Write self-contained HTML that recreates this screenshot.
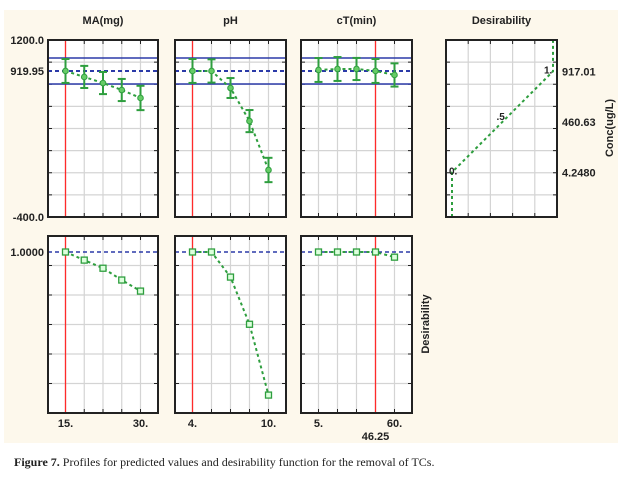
<!DOCTYPE html>
<html><head><meta charset="utf-8"><style>
body{margin:0;background:#fff;width:630px;height:479px;overflow:hidden}
svg{display:block}
</style></head><body>
<svg id="c" width="630" height="479" xmlns="http://www.w3.org/2000/svg" font-family="Liberation Sans, sans-serif">
<rect x="4" y="10" width="614" height="433" fill="#fdf8ec"/>
<text x="14" y="466" font-family="Liberation Serif, serif" font-size="12" fill="#222"><tspan font-weight="bold">Figure 7.</tspan> Profiles for predicted values and desirability function for the removal of TCs.</text>
</svg>
<script>
const factorNames=["MA(mg)","pH","cT(min)"];
const xMinLabels=["15.","4.","5."];
const xMaxLabels=["30.","10.","60."];
const currentIdx=[0,0,3];
const currentLabel=["","","46.25"];
const maPred=[920,866,811,748,676];
const phPred=[920,920,766,467,25];
const ctPred=[929,938,938,920,884];
const maErr=[108,100,100,100,110];
const phErr=[108,105,90,100,110];
const ctErr=[108,108,100,108,105];
const maDes=[1,0.945,0.89,0.81,0.735];
const phDes=[1,1,0.83,0.51,0.03];
const ctDes=[1,1,1,1,0.965];
const predTarget=919.95, predUpper=1037, predLower=802;
const desCurveD=[0,0,1,1];
const desCurveC=[-400,4.248,917.01,1200];
const concLabels=["917.01","460.63","4.2480"];
const concVals=[917.01,460.63,4.248];
const desPtLabels=["0.",".5","1."];

const svg=document.getElementById('c');
const NS="http://www.w3.org/2000/svg";
function mk(tag,attrs,parent){const e=document.createElementNS(NS,tag);for(const k in attrs)e.setAttribute(k,attrs[k]);(parent||svg).appendChild(e);return e;}
const panelsX=[[48,158],[175,286],[301,412]];
const top1=40,bot1=217,top2=236,bot2=413;
const yPred=v=>top1+(1200-v)/1600*(bot1-top1);
const yDes=v=>252+(1-v)*147.5;
const preds=[maPred,phPred,ctPred],errs=[maErr,phErr,ctErr],des=[maDes,phDes,ctDes];
const green="#2e9e3e",blue="#2b3aa8";
function xAt(p,i){const [a,b]=panelsX[p];return a+17.5+i*(b-a-35)/4;}

function frame(x0,x1,y0,y1,hn,xs,name){
  const g=mk('g',{});
  
  
  mk('rect',{x:x0,y:y0,width:x1-x0,height:y1-y0,fill:'#fff'},g);
  for(let i=1;i<hn;i++){const y=y0+i*(y1-y0)/hn;mk('line',{x1:x0,x2:x1,y1:y,y2:y,stroke:'#d4d4d4','stroke-width':1.2},g);mk('line',{x1:x0,x2:x0+4,y1:y,y2:y,stroke:'#222'},g);mk('line',{x1:x1-4,x2:x1,y1:y,y2:y,stroke:'#222'},g);}
  xs.forEach(x=>{mk('line',{x1:x,x2:x,y1:y0,y2:y1,stroke:'#d4d4d4','stroke-width':1.2},g);mk('line',{x1:x,x2:x,y1:y0,y2:y0+4,stroke:'#222'},g);mk('line',{x1:x,x2:x,y1:y1-4,y2:y1,stroke:'#222'},g);});
  return g;
}
function border(x0,x1,y0,y1){mk('rect',{x:x0,y:y0,width:x1-x0,height:y1-y0,fill:'none',stroke:'#222','stroke-width':2});}

for(let p=0;p<3;p++){
  const [x0,x1]=panelsX[p];
  const xs=[0,1,2,3,4].map(i=>xAt(p,i));
  const t=mk('text',{x:(x0+x1)/2,y:24,'text-anchor':'middle','font-size':11,'font-weight':'bold',fill:'#222'});t.textContent=factorNames[p];
  
  
  // top panel
  frame(x0,x1,top1,bot1,8,xs,'prediction-panel-'+p);
  const xr=xAt(p,currentIdx[p]);
  const rl=mk('line',{x1:xr,x2:xr,y1:top1,y2:bot1,stroke:'#ff2a2a','stroke-width':1.3});
  
  
  [predUpper,predLower].forEach(v=>mk('line',{x1:x0,x2:x1,y1:yPred(v),y2:yPred(v),stroke:blue,'stroke-width':1.5}));
  mk('line',{x1:x0,x2:x1,y1:yPred(predTarget),y2:yPred(predTarget),stroke:blue,'stroke-width':2,'stroke-dasharray':'4,3'});
  const pts=preds[p].map((v,i)=>xAt(p,i)+','+yPred(v)).join(' ');
  const pl=mk('polyline',{points:pts,fill:'none',stroke:green,'stroke-width':2,'stroke-dasharray':'3,3'});
  
  
  preds[p].forEach((v,i)=>{const x=xAt(p,i),y=yPred(v),e=errs[p][i];
    const hi=yPred(v+e),lo=yPred(v-e);
    mk('line',{x1:x,x2:x,y1:hi,y2:lo,stroke:green,'stroke-width':2});
    mk('line',{x1:x-4,x2:x+4,y1:hi,y2:hi,stroke:green,'stroke-width':2});
    mk('line',{x1:x-4,x2:x+4,y1:lo,y2:lo,stroke:green,'stroke-width':2});
    const c=mk('circle',{cx:x,cy:y,r:2.8,fill:'#6c6',stroke:green,'stroke-width':1});
    
    
  });
  border(x0,x1,top1,bot1);
  // bottom panel
  frame(x0,x1,top2,bot2,6,xs,'desirability-panel-'+p);
  const rl2=mk('line',{x1:xr,x2:xr,y1:top2,y2:bot2,stroke:'#ff2a2a','stroke-width':1.3});
  
  
  mk('line',{x1:x0,x2:x1,y1:yDes(1),y2:yDes(1),stroke:blue,'stroke-width':1.5,'stroke-dasharray':'4,3'});
  const pts2=des[p].map((v,i)=>xAt(p,i)+','+yDes(v)).join(' ');
  const pl2=mk('polyline',{points:pts2,fill:'none',stroke:green,'stroke-width':2,'stroke-dasharray':'3,3'});
  
  
  des[p].forEach((v,i)=>{const r=mk('rect',{x:xAt(p,i)-3,y:yDes(v)-3,width:6,height:6,fill:'#dfd',stroke:green,'stroke-width':1.3});
    
    });
  border(x0,x1,top2,bot2);
  const a=mk('text',{x:xAt(p,0),y:427,'text-anchor':'middle','font-size':11,'font-weight':'bold',fill:'#222'});a.textContent=xMinLabels[p];
  
  
  const b=mk('text',{x:xAt(p,4),y:427,'text-anchor':'middle','font-size':11,'font-weight':'bold',fill:'#222'});b.textContent=xMaxLabels[p];
  
  
  if(currentLabel[p]){const c=mk('text',{x:xr,y:440,'text-anchor':'middle','font-size':11,'font-weight':'bold',fill:'#222'});c.textContent=currentLabel[p];
    
    }
}
[["1200.0",1200],["919.95",predTarget],["-400.0",-400]].forEach(([s,v])=>{const t=mk('text',{x:44,y:yPred(v)+4,'text-anchor':'end','font-size':11,'font-weight':'bold',fill:'#222'});t.textContent=s;
  
  });
{const t=mk('text',{x:44,y:yDes(1)+4,'text-anchor':'end','font-size':11,'font-weight':'bold',fill:'#222'});t.textContent="1.0000";
  
  }
const dx0=446,dx1=557;
const xD=v=>dx0+6+v*(dx1-dx0-10);
{const t=mk('text',{x:(dx0+dx1)/2,y:24,'text-anchor':'middle','font-size':11,'font-weight':'bold',fill:'#222'});t.textContent="Desirability";
  
  }
frame(dx0,dx1,top1,bot1,8,[1,2,3,4].map(i=>dx0+i*(dx1-dx0)/5),'desirability-function-panel');
const dl=mk('polyline',{points:desCurveD.map((d,i)=>xD(d)+','+yPred(desCurveC[i])).join(' '),fill:'none',stroke:green,'stroke-width':2,'stroke-dasharray':'3,3'});


[[0,4.248],[0.5,460.63],[1,917.01]].forEach(([d,c],i)=>{const t=mk('text',{x:xD(d)+(i==0?-3:i==1?-6:-9),y:yPred(c)+(i==1?-2:2),'font-size':10,'font-weight':'bold',fill:'#222'});t.textContent=desPtLabels[i];
  
  });
border(dx0,dx1,top1,bot1);
concLabels.forEach((s,i)=>{const t=mk('text',{x:562,y:yPred(concVals[i])+4,'font-size':11,'font-weight':'bold',fill:'#222'});t.textContent=s;
  
  });
{const t=mk('text',{x:0,y:0,transform:'translate(613,128) rotate(-90)','text-anchor':'middle','font-size':11,'font-weight':'bold',fill:'#222'});t.textContent="Conc(ug/L)";
  
  }
{const t=mk('text',{x:0,y:0,transform:'translate(429,324) rotate(-90)','text-anchor':'middle','font-size':11,'font-weight':'bold',fill:'#222'});t.textContent="Desirability";
  
  }
</script>
</body></html>
